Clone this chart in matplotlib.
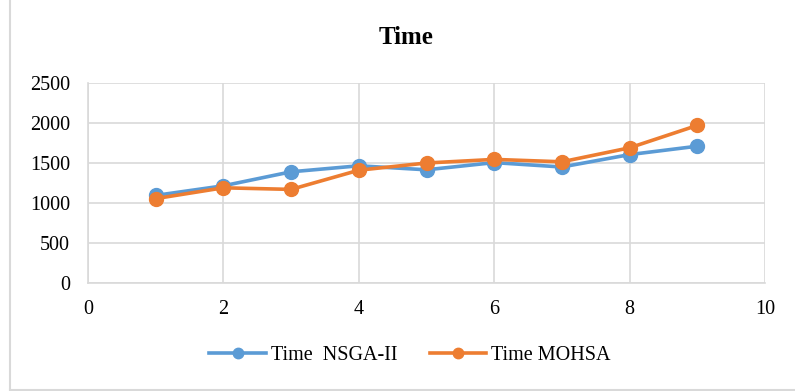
import numpy as np
import matplotlib.pyplot as plt
from matplotlib.lines import Line2D
from matplotlib.ticker import MultipleLocator

plt.rcParams['font.family'] = ['Liberation Serif', 'DejaVu Serif']

# run index and time for each algorithm
runs = [1, 2, 3, 4, 5, 6, 7, 8, 9]
time_nsga = [1095, 1215, 1390, 1465, 1415, 1505, 1450, 1605, 1710]
time_mohsa = [1055, 1190, 1170, 1410, 1500, 1545, 1515, 1690, 1970]

blue = '#5B9BD5'
orange = '#ED7D31'
grid_c = '#D9D9D9'

W, H = 795, 391
fig = plt.figure(figsize=(W / 100, H / 100), dpi=100)
ax = fig.add_axes([88 / W, 1 - 283 / H, (765 - 88) / W, 200 / H])

# chart frame: left and bottom edges only
fig.add_artist(Line2D([9.5 / W, 9.5 / W], [1.5 / H, 1], color=grid_c, lw=1.5))
fig.add_artist(Line2D([9.5 / W, 1], [1.5 / H, 1.5 / H], color=grid_c, lw=1.5))

ax.plot(runs, time_nsga, color=blue, lw=2.6, marker='o', ms=10, label='Time  NSGA-II')
ax.plot(runs, time_mohsa, color=orange, lw=2.6, marker='o', ms=10, label='Time MOHSA')

ax.set_xlim(0, 10)
ax.set_ylim(0, 2500)
ax.xaxis.set_major_locator(MultipleLocator(2))
ax.yaxis.set_major_locator(MultipleLocator(500))
ax.grid(True, color=grid_c, lw=1.2)
ax.set_axisbelow(True)
for s in ['top', 'right']:
    ax.spines[s].set_visible(False)
for s in ['left', 'bottom']:
    ax.spines[s].set_color(grid_c)
    ax.spines[s].set_linewidth(1.2)
ax.tick_params(length=0, labelsize=14.5)
ax.tick_params(axis='x', pad=12)
ax.tick_params(axis='y', pad=13)

fig.text(406 / W, 1 - 37 / H, 'Time', ha='center', va='center', fontsize=18, fontweight='bold')

ax.legend(loc='center', bbox_to_anchor=((410 - 88) / (765 - 88), (283 - 355) / 200), ncol=2,
          frameon=False, fontsize=14.5, handlelength=2.8, handletextpad=0.25,
          columnspacing=1.6, markerscale=0.75)

fig.savefig('out.png', dpi=100)
